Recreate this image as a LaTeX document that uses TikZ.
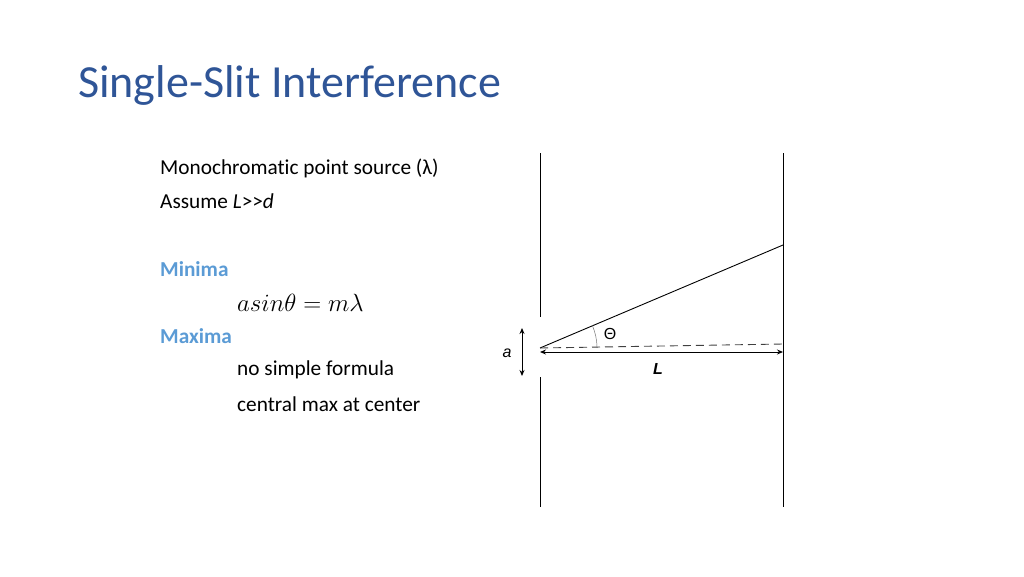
\documentclass[tikz,border=0pt]{standalone}
\usepackage{fontspec}
\setmainfont{Carlito}[Ligatures={NoCommon}]
\newfontfamily\thetafont{Liberation Sans}
\usetikzlibrary{arrows.meta}
\definecolor{titleblue}{RGB}{47,85,151}
\definecolor{headblue}{RGB}{91,155,213}
\tikzset{
  body/.style={anchor=west, inner sep=0pt, font=\fontsize{21.3}{25}\selectfont, text=black},
  head/.style={body, text=headblue, font=\fontsize{21.3}{25}\selectfont\bfseries},
  wall/.style={line width=1pt, black},
  ray/.style={line width=0.9pt, black},
  dimarrow/.style={line width=0.9pt, {Stealth[length=6pt,width=5pt]}-{Stealth[length=6pt,width=5pt]}},
  lbl/.style={inner sep=0pt, font=\fontsize{16}{18}\selectfont}
}
\begin{document}
\begin{tikzpicture}[x=1pt,y=-1pt]
\useasboundingbox (0,0) rectangle (1024,576);
% title
\node[anchor=west, inner sep=0pt, text=titleblue, font=\fontsize{46}{54}\selectfont] (title) at (78,85) {Single-Slit Interference};
% text block
\node[body] (t1) at (160,168) {Monochromatic point source (λ)};
\node[body] (t2) at (160,201) {Assume \textit{L}>{}>\textit{d}};
\node[head] (t3) at (160,269) {Minima};
\node[body, font=\fontsize{23}{27}\selectfont] (t4) at (237,303) {$a sin\theta = m\lambda$};
\node[head] (t5) at (160,336) {Maxima};
\node[body] (t6) at (237,370) {no simple formula};
\node[body] (t7) at (237,404) {central max at center};
% diagram
\coordinate (lwtop) at (540,153);
\coordinate (lwgapA) at (540,317);
\coordinate (lwgapB) at (540,377);
\coordinate (lwbot) at (540,507);
\coordinate (rwtop) at (783,153);
\coordinate (rwbot) at (783,507);
\coordinate (src) at (540,348);
\coordinate (hit) at (783,245);
\coordinate (dashend) at (783,344);
\coordinate (Lstart) at (540,352);
\coordinate (Lend) at (783,352);
\coordinate (atop) at (522,328);
\coordinate (abot) at (522,376);
\draw[wall] (lwtop) -- (lwgapA);
\draw[wall] (lwgapB) -- (lwbot);
\draw[wall] (rwtop) -- (rwbot);
\draw[ray] (src) -- (hit);
\draw[line width=0.9pt, black!75, dash pattern=on 8pt off 5pt] (src) -- (dashend);
\draw[dimarrow] (Lstart) -- (Lend);
\draw[dimarrow] (atop) -- (abot);
\draw[line width=0.5pt, black!55] ([shift={(0:57)}]src) arc[start angle=0, end angle=-23, radius=57];
\node[lbl] (theta) at (610,334) {\thetafont Θ};
\node[lbl] (alab) at (507,353) {\thetafont\itshape a};
\node[lbl] (Llab) at (658,369) {\thetafont\bfseries\itshape L};
\end{tikzpicture}
\end{document}
